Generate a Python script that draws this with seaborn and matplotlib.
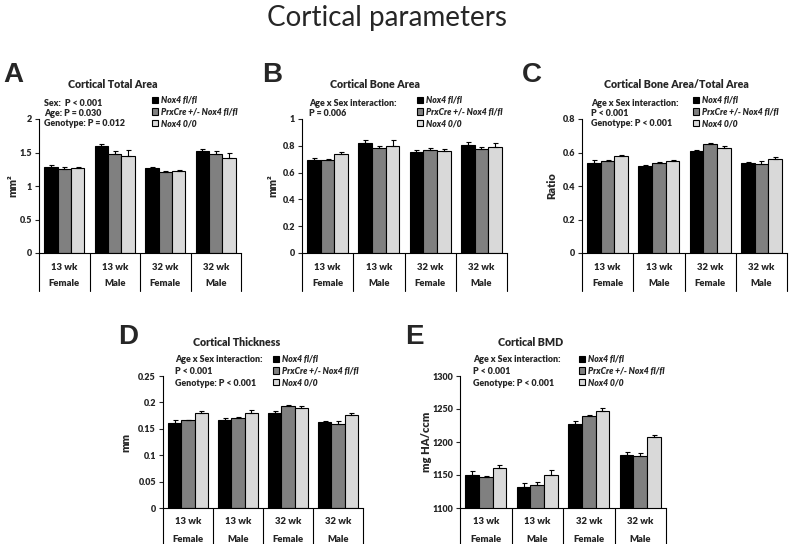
import numpy as np
import pandas as pd
import matplotlib
matplotlib.use('Agg')
import matplotlib.pyplot as plt
import seaborn as sns

# categories
ages = ['13 wk', '13 wk', '32 wk', '32 wk']
sexes = ['Female', 'Male', 'Female', 'Male']
genotypes = ['Nox4 fl/fl', 'PrxCre +/- Nox4 fl/fl', 'Nox4 0/0']
colors = ['#000000', '#808080', '#d9d9d9']

# A - cortical total area (mm2)
tot_fl = [1.28, 1.59, 1.27, 1.52]
tot_cre = [1.26, 1.475, 1.21, 1.475]
tot_00 = [1.275, 1.455, 1.225, 1.42]
tot_fl_err = [0.03, 0.03, 0.02, 0.025]
tot_cre_err = [0.02, 0.04, 0.015, 0.04]
tot_00_err = [0.015, 0.075, 0.01, 0.075]

# B - cortical bone area (mm2)
bone_fl = [0.693, 0.82, 0.757, 0.805]
bone_cre = [0.695, 0.78, 0.765, 0.775]
bone_00 = [0.74, 0.797, 0.762, 0.79]
bone_fl_err = [0.017, 0.02, 0.01, 0.02]
bone_cre_err = [0.01, 0.02, 0.015, 0.015]
bone_00_err = [0.012, 0.045, 0.015, 0.03]

# C - bone area / total area
ratio_fl = [0.54, 0.519, 0.606, 0.54]
ratio_cre = [0.552, 0.537, 0.648, 0.531]
ratio_00 = [0.578, 0.55, 0.628, 0.564]
ratio_fl_err = [0.014, 0.006, 0.01, 0.006]
ratio_cre_err = [0.006, 0.006, 0.008, 0.016]
ratio_00_err = [0.006, 0.006, 0.01, 0.01]

# D - cortical thickness (mm)
thk_fl = [0.161, 0.167, 0.179, 0.162]
thk_cre = [0.166, 0.17, 0.193, 0.159]
thk_00 = [0.179, 0.179, 0.189, 0.176]
thk_fl_err = [0.005, 0.004, 0.004, 0.003]
thk_cre_err = [0.001, 0.002, 0.002, 0.005]
thk_00_err = [0.004, 0.006, 0.004, 0.003]

# E - cortical BMD (mg HA/ccm)
bmd_fl = [1150, 1131.5, 1228, 1181]
bmd_cre = [1146.5, 1135.5, 1239, 1179.5]
bmd_00 = [1161, 1150.5, 1246.5, 1207]
bmd_fl_err = [6.5, 7, 4.5, 3.5]
bmd_cre_err = [2, 4.5, 2, 4]
bmd_00_err = [4.5, 7, 5.5, 3]

sns.set_style('white')
plt.rcParams['font.family'] = ['Lato', 'DejaVu Sans']
WT = 'heavy'

W, H = 789, 544
fig = plt.figure(figsize=(W / 100, H / 100), dpi=100)


def fx(x):
    return x / W


def fy(y):
    return 1 - y / H


panels = [
    dict(letter='A', letter_xy=(3, 75), box=(39, 241, 119, 253),
         means=[tot_fl, tot_cre, tot_00], errs=[tot_fl_err, tot_cre_err, tot_00_err],
         ylim=(0, 2), yticks=[0, 0.5, 1, 1.5, 2], ylabel='mm²', ylabel_x=13,
         title='Cortical Total Area', title_xy=(113, 85),
         stats=['Sex:  P < 0.001', 'Age: P = 0.030', 'Genotype: P = 0.012'],
         stats_x=44, stats_y=[103, 113, 124], leg_xy=(152, 96)),
    dict(letter='B', letter_xy=(262, 75), box=(302, 507, 119, 253),
         means=[bone_fl, bone_cre, bone_00], errs=[bone_fl_err, bone_cre_err, bone_00_err],
         ylim=(0, 1), yticks=[0, 0.2, 0.4, 0.6, 0.8, 1], ylabel='mm²', ylabel_x=273,
         title='Cortical Bone Area', title_xy=(375, 85),
         stats=['Age x Sex interaction:', 'P = 0.006'],
         stats_x=309, stats_y=[103, 113], leg_xy=(417, 96)),
    dict(letter='C', letter_xy=(522, 75), box=(582, 787, 119, 253),
         means=[ratio_fl, ratio_cre, ratio_00], errs=[ratio_fl_err, ratio_cre_err, ratio_00_err],
         ylim=(0, 0.8), yticks=[0, 0.2, 0.4, 0.6, 0.8], ylabel='Ratio', ylabel_x=552,
         title='Cortical Bone Area/Total Area', title_xy=(676, 85),
         stats=['Age x Sex interaction:', 'P < 0.001', 'Genotype: P < 0.001'],
         stats_x=591, stats_y=[103, 113, 124], leg_xy=(693, 96)),
    dict(letter='D', letter_xy=(118, 337), box=(163, 363, 376, 508),
         means=[thk_fl, thk_cre, thk_00], errs=[thk_fl_err, thk_cre_err, thk_00_err],
         ylim=(0, 0.25), yticks=[0, 0.05, 0.1, 0.15, 0.2, 0.25], ylabel='mm', ylabel_x=126,
         title='Cortical Thickness', title_xy=(237, 343),
         stats=['Age x Sex interaction:', 'P < 0.001', 'Genotype: P < 0.001'],
         stats_x=175, stats_y=[360, 372, 383], leg_xy=(273, 355)),
    dict(letter='E', letter_xy=(405, 337), box=(460, 666, 376, 508),
         means=[bmd_fl, bmd_cre, bmd_00], errs=[bmd_fl_err, bmd_cre_err, bmd_00_err],
         ylim=(1100, 1300), yticks=[1100, 1150, 1200, 1250, 1300], ylabel='mg HA/ccm', ylabel_x=427,
         title='Cortical BMD', title_xy=(531, 343),
         stats=['Age x Sex interaction:', 'P < 0.001', 'Genotype: P < 0.001'],
         stats_x=473, stats_y=[360, 372, 383], leg_xy=(579, 355)),
]

for p in panels:
    l, r, t, b = p['box']
    ax = fig.add_axes([fx(l), fy(b), (r - l) / W, (b - t) / H])
    axh = b - t

    rows = []
    for g, vals in zip(genotypes, p['means']):
        for a, s, v in zip(ages, sexes, vals):
            rows.append({'group': a + ' ' + s, 'genotype': g, 'value': v})
    df = pd.DataFrame(rows)
    sns.barplot(data=df, x='group', y='value', hue='genotype', palette=colors,
                saturation=1, edgecolor='black', linewidth=0.8, errorbar=None,
                width=0.8, ax=ax)

    # one-sided error bars on top of each bar
    for cont, e in zip(ax.containers, p['errs']):
        xs = [bar.get_x() + bar.get_width() / 2 for bar in cont]
        hs = [bar.get_height() for bar in cont]
        ax.errorbar(xs, hs, yerr=[np.zeros(len(e)), e], fmt='none', ecolor='black',
                    elinewidth=0.8, capsize=1.8, capthick=0.8)

    ax.set_ylim(p['ylim'])
    ax.set_yticks(p['yticks'])
    ax.set_yticklabels([f'{v:g}' for v in p['yticks']], fontsize=6.5, fontweight=WT)
    ax.set_xlim(-0.5, 3.5)
    ax.set_xticks([])
    ax.set_xlabel('')
    ax.set_ylabel('')
    ax.tick_params(axis='y', left=True, length=3, width=0.8, direction='out', pad=2)
    for side in ['top', 'right']:
        ax.spines[side].set_visible(False)
    for side in ['left', 'bottom']:
        ax.spines[side].set_color('black')
        ax.spines[side].set_linewidth(0.8)

    # two-level category axis
    for i, (a, s) in enumerate(zip(ages, sexes)):
        ax.annotate(a, xy=(i, 0), xycoords=('data', 'axes fraction'), xytext=(0, -14 * 0.72),
                    textcoords='offset points', ha='center', va='center', fontsize=6.8, fontweight=WT)
        ax.annotate(s, xy=(i, 0), xycoords=('data', 'axes fraction'), xytext=(0, -31 * 0.72),
                    textcoords='offset points', ha='center', va='center', fontsize=6.8, fontweight=WT)
    for xb in np.arange(-0.5, 4, 1):
        ax.plot([xb, xb], [0, -38 / axh], transform=ax.get_xaxis_transform(),
                clip_on=False, color='black', lw=0.8)

    handles, labels = ax.get_legend_handles_labels()
    if ax.get_legend() is not None:
        ax.get_legend().remove()
    ax.legend(handles, labels, loc='upper left', bbox_to_anchor=(fx(p['leg_xy'][0]), fy(p['leg_xy'][1])),
              bbox_transform=fig.transFigure, frameon=False,
              prop={'weight': WT, 'style': 'italic', 'size': 6.2},
              handlelength=0.75, handleheight=0.75, handletextpad=0.35, labelspacing=0.3,
              borderpad=0, borderaxespad=0)

    fig.text(fx(p['ylabel_x']), fy((t + b) / 2), p['ylabel'], rotation=90,
             ha='center', va='center', fontsize=8, fontweight=WT)
    fig.text(fx(p['title_xy'][0]), fy(p['title_xy'][1]), p['title'],
             ha='center', va='center', fontsize=7.7, fontweight=WT)
    for line, yy in zip(p['stats'], p['stats_y']):
        fig.text(fx(p['stats_x']), fy(yy), line, ha='left', va='center',
                 fontsize=6.4, fontweight=WT)
    fig.text(fx(p['letter_xy'][0]), fy(p['letter_xy'][1]), p['letter'], ha='left', va='center',
             fontsize=20, fontweight='bold', family=['Liberation Sans', 'DejaVu Sans'])

fig.text(fx(387), fy(18), 'Cortical parameters', ha='center', va='center', fontsize=20)

fig.savefig('out.png', dpi=100)
